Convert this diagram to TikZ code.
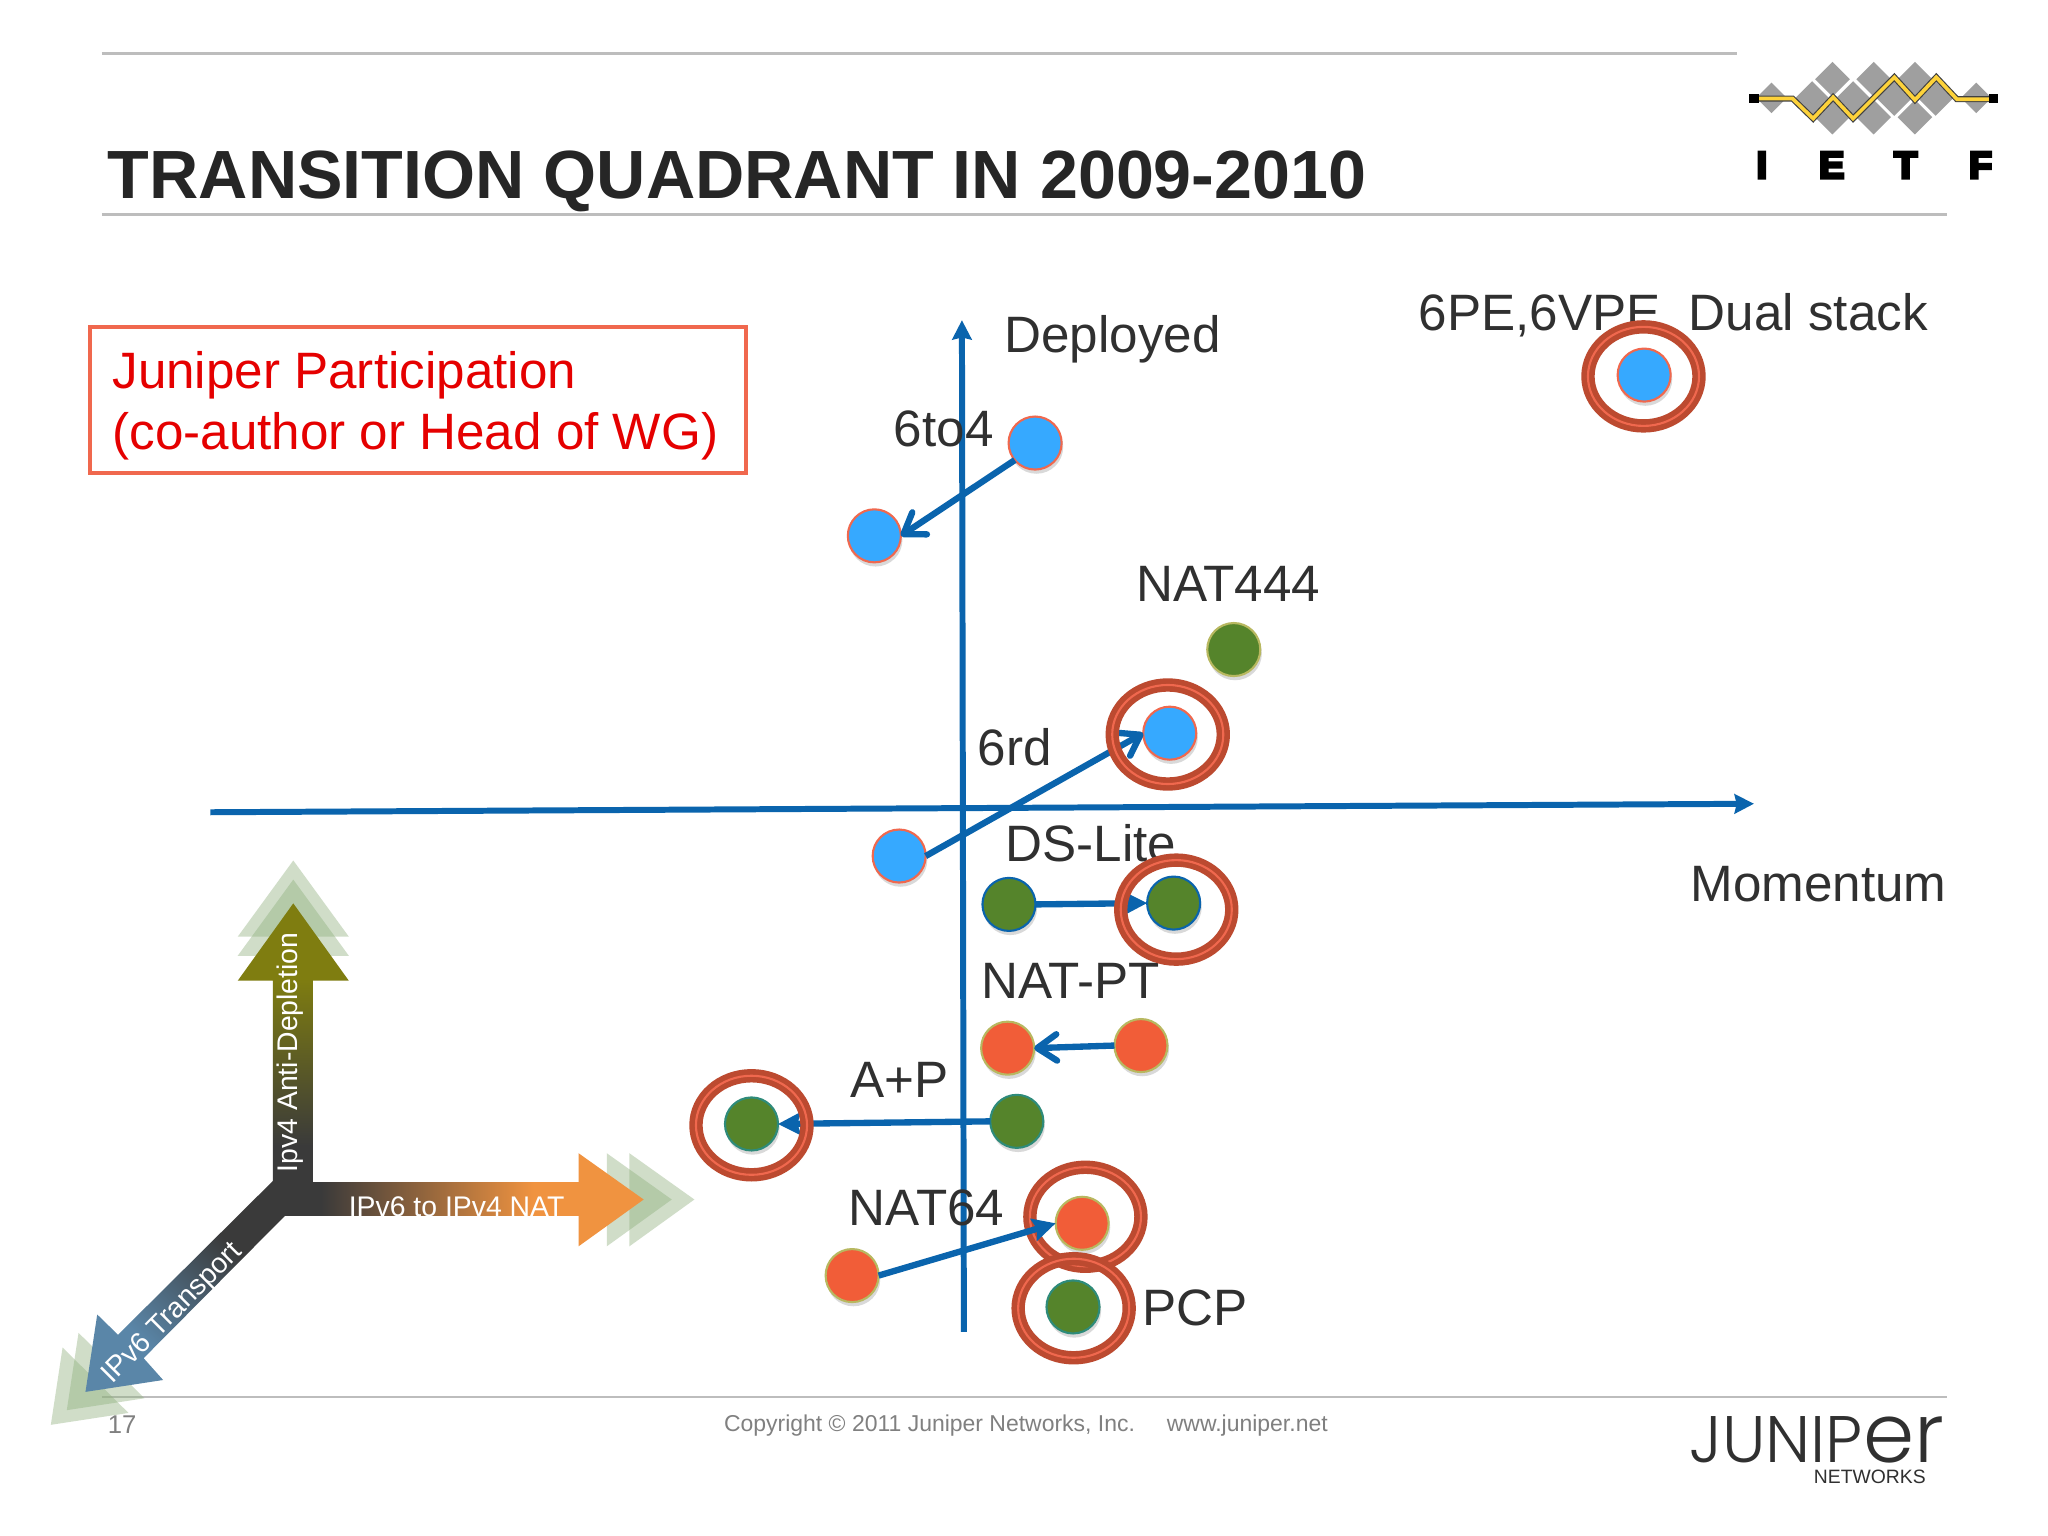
\documentclass[tikz,border=0pt]{standalone}
\usepackage{fontspec}
\setmainfont{Liberation Sans}
\newfontfamily\ietffont[FakeBold=8]{Liberation Sans Bold}
\newfontfamily\jnprfont[UprightFont=* Light]{Poppins}
\usetikzlibrary{arrows.meta,calc,shapes.geometric}
\definecolor{axisblue}{HTML}{0A64AD}
\definecolor{ringred}{HTML}{BC4A30}
\definecolor{ringlight}{HTML}{F0684E}
\definecolor{dotblue}{HTML}{36A9FF}
\definecolor{dotgreen}{HTML}{55842B}
\definecolor{dotorange}{HTML}{F15D38}
\definecolor{dotedge}{HTML}{B8B860}
\definecolor{dotteal}{HTML}{2E8B7A}
\definecolor{txtdark}{HTML}{303030}
\definecolor{rulegray}{HTML}{BDBDBD}
\definecolor{ghost}{HTML}{8FB07E}
\definecolor{hubdark}{HTML}{3A3A3A}
\definecolor{olivetop}{HTML}{7F7D10}
\definecolor{natorange}{HTML}{F09340}
\definecolor{transblue}{HTML}{5A86A8}
\definecolor{ietfyellow}{HTML}{FDD23A}
\pgfdeclareverticalshading{upshade}{100bp}{color(0bp)=(hubdark);color(33bp)=(hubdark);color(62bp)=(olivetop);color(100bp)=(olivetop)}
\pgfdeclarehorizontalshading{natshade}{100bp}{color(0bp)=(hubdark);color(31bp)=(hubdark);color(60bp)=(natorange);color(100bp)=(natorange)}
\pgfdeclarehorizontalshading{transshade}{100bp}{color(0bp)=(transblue);color(32bp)=(transblue);color(62bp)=(hubdark);color(100bp)=(hubdark)}
\tikzset{
  x=0.013069cm, y=-0.013069cm,
  rulel/.style={draw=rulegray,line width=0.75pt},
  lab/.style={anchor=base west,inner sep=0,outer sep=0,text=txtdark,font=\fontsize{14.55}{14.55}\selectfont},
  dotb/.style={circle,minimum size=0.53cm,inner sep=0,outer sep=0,fill=dotblue,draw=ringlight,line width=0.6pt},
  dotg/.style={circle,minimum size=0.53cm,inner sep=0,outer sep=0,fill=dotgreen,draw=axisblue,line width=0.6pt},
  dott/.style={circle,minimum size=0.53cm,inner sep=0,outer sep=0,fill=dotgreen,draw=dotteal,line width=0.6pt},
  dotgy/.style={circle,minimum size=0.53cm,inner sep=0,outer sep=0,fill=dotgreen,draw=dotedge,line width=0.6pt},
  doto/.style={circle,minimum size=0.53cm,inner sep=0,outer sep=0,fill=dotorange,draw=dotedge,line width=0.6pt},
  ringo/.style={ellipse,minimum width=1.11cm,minimum height=0.99cm,inner sep=0,draw=ringred,line width=3.8pt,
     postaction={draw=ringlight,line width=0.6pt}},
  conn/.style={draw=axisblue,line width=1.8pt,-{Straight Barb[length=5.5pt,width=7.5pt,line width=1.8pt,round]}},
  connf/.style={draw=axisblue,line width=1.8pt,-{Stealth[length=6.5pt,width=6.5pt,inset=1pt]}},
  axisl/.style={draw=axisblue,line width=1.7pt,-{Stealth[length=5.5pt,width=5.5pt,inset=0.6pt]}},
  ghostf/.style={fill=ghost,fill opacity=0.42},
  wtxt/.style={inner sep=0,outer sep=0,text=white,font=\fontsize{8.07}{8.07}\selectfont},
  shd/.style={fill=black,fill opacity=0.15},
}
\newcommand{\dotshadow}[2]{\fill[shd] (#1+1,#2+3) circle (20.5);}
\begin{document}
\begin{tikzpicture}
\useasboundingbox (0,0) rectangle (1567,1175.25);
\fill[white] (0,0) rectangle (1567,1175.25);
% rules
\draw[rulel] (78,41) -- (1329,41);
\draw[rulel] (78,164) -- (1490,164);
\draw[rulel] (78,1069) -- (1490,1069);
% title
\node[anchor=base west,inner sep=0,text=black!85,font=\fontsize{19.4}{19.4}\selectfont\bfseries] (title) at (82,152) {TRANSITION QUADRANT IN 2009-2010};
% IETF logo
\begin{scope}[shift={(1316,30.6)},x=0.00333cm,y=-0.00333cm]
  \foreach \cx/\cy/\h in {155/174/46,770/174/46,338/118/52,462/118/52,586/118/52,277/176/52,400/176/52,524/176/52,648/176/52,338/232/52,462/232/52,586/232/52}{
    \fill[gray!75] (\cx-\h,\cy) -- (\cx,\cy-\h) -- (\cx+\h,\cy) -- (\cx,\cy+\h) -- cycle;
  }
  \draw[black!75,line width=1.7pt,line join=miter] (115,176) -- (218,176) -- (280,236) -- (340,172) -- (400,236) -- (524,112) -- (586,180) -- (650,112) -- (712,178) -- (810,178);
  \draw[ietfyellow,line width=1.05pt,line join=miter] (115,176) -- (218,176) -- (280,236) -- (340,172) -- (400,236) -- (524,112) -- (586,180) -- (650,112) -- (712,178) -- (810,178);
  \fill[black] (88,161) rectangle (116,189);
  \fill[black] (808,161) rectangle (836,189);
  \node[inner sep=0,anchor=base,font=\ietffont\fontsize{10.7}{10.7}\selectfont] (li) at (126,415) {I};
  \node[inner sep=0,anchor=base,font=\ietffont\fontsize{10.7}{10.7}\selectfont] (le) at (336,415) {E};
  \node[inner sep=0,anchor=base,font=\ietffont\fontsize{10.7}{10.7}\selectfont] (lt) at (558,415) {T};
  \node[inner sep=0,anchor=base,font=\ietffont\fontsize{10.7}{10.7}\selectfont] (lf) at (783,415) {F};
\end{scope}
% Juniper box
\node[draw=ringlight,line width=1.15pt,inner sep=0,outer sep=0,minimum width=6.55cm,minimum height=1.46cm,anchor=north west] (box) at (69,250) {};
\node[anchor=base west,inner sep=0,text=red!90!black,font=\fontsize{14.55}{14.55}\selectfont] (b1) at (85.5,297) {Juniper Participation};
\node[anchor=base west,inner sep=0,text=red!90!black,font=\fontsize{14.55}{14.55}\selectfont] (b2) at (85.5,344) {(co-author or Head of WG)};
% axes
\coordinate (hs) at (161,621.5); \coordinate (he) at (1342,615);
\coordinate (vs) at (737.5,1019); \coordinate (ve) at (736,245);
\draw[axisl] (hs) -- (he);
\draw[axisl] (vs) -- (ve);
% labels
\node[lab] (deployed) at (768.5,270) {Deployed};
\node[lab] (sixpe) at (1085.5,253) {6PE,6VPE\ \ Dual stack};
\node[lab] (sixto) at (684,342) {6to4};
\node[lab] (nat444) at (869.5,460) {NAT444};
\node[lab] (sixrd) at (748,586) {6rd};
\node[lab] (dslite) at (769.5,659) {DS-Lite};
\node[lab] (mom) at (1293.5,690) {Momentum};
\node[lab] (natpt) at (751,764) {NAT-PT};
\node[lab] (ap) at (651,840) {A+P};
\node[lab] (nat64) at (649.5,938) {NAT64};
\node[lab] (pcp) at (874,1014) {PCP};
% big arrows - ghosts
\foreach \d in {0,-14.6}{
 \fill[ghostf] (181.9,731.3+\d) -- (224.4,673+\d) -- (266.9,731.3+\d) -- cycle;}
\foreach \d in {0,17.3}{
 \fill[ghostf] (464.3+\d,882.4) -- (514+\d,917.8) -- (464.3+\d,953.6) -- cycle;}
\foreach \d/\e in {-14.3/14,-26.5/25.2}{
 \fill[ghostf] (65.4+\d,1065+\e) -- (74.4+\d,1005.8+\e) -- (124.8+\d,1055.9+\e) -- cycle;}
% arrows with gradients
\path[shading=transshade,shading angle=45]
  (208.8,903.6) -- (90.3,1021.3) -- (74.4,1005.8) -- (65.4,1065) -- (124.8,1055.9) -- (109.9,1039.2) -- (218,930.3) -- (239.3,917) -- cycle;
\path[shading=upshade]
  (208.8,912) -- (208.8,750.4) -- (181.9,750.4) -- (224.4,691.2) -- (266.9,750.4) -- (239.3,750.4) -- (239.3,912) -- cycle;
\path[shading=natshade]
  (212,904.5) -- (442.7,904.5) -- (442.7,882.4) -- (492.5,917.8) -- (442.7,953.6) -- (442.7,930.3) -- (212,930.3) -- cycle;
\node[wtxt,anchor=base west] (t1) at (266.9,931) {IPv6 to IPv4 NAT};
\node[wtxt,anchor=base west,rotate=90] (t2) at (228,897) {Ipv4 Anti-Depletion};
\node[wtxt,anchor=base west,rotate=45] (t3) at (86,1059) {IPv6 Transport};
% page text
\node[anchor=base west,inner sep=0,text=gray,font=\fontsize{7.3}{7.3}\selectfont] (pg) at (82,1097) {17};
\node[anchor=base west,inner sep=0,text=gray,font=\fontsize{6.53}{6.53}\selectfont] (copy) at (553.5,1095.5) {Copyright \textcopyright{} 2011 Juniper Networks, Inc.\ \ \ \ \ www.juniper.net};
% Juniper logo
\node[anchor=base east,inner sep=0,text=txtdark,font=\jnprfont\fontsize{18.7}{18.7}\selectfont] (jn) at (1488,1119) {JUNIP{\fontsize{23.4}{23.4}\selectfont er}};
\node[anchor=base east,inner sep=0,text=txtdark,font=\fontsize{5.5}{5.5}\selectfont] (nw) at (1474,1135) {NETWORKS};
% dot shadows and dots
\foreach \x/\y in {1258/287,792/339,669/410,895/561,688/655,944/497,772/692,898/691,778/858,575/860,821/1000,771/802,873/800,828/936,652/976}{\dotshadow{\x}{\y}}
\node[dotb] (a1) at (1258,287) {};
\node[dotb] (a2) at (792,339) {};
\node[dotb] (a3) at (669,410) {};
\node[dotb] (a4) at (895,561) {};
\node[dotb] (a5) at (688,655) {};
\node[dotgy] (g1) at (944,497) {};
\node[dotg] (g2) at (772,692) {};
\node[dotg] (g3) at (898,691) {};
\node[dott] (g4) at (778,858) {};
\node[dott] (g5) at (575,860) {};
\node[dott] (g6) at (821,1000) {};
\node[doto] (o1) at (771,802) {};
\node[doto] (o2) at (873,800) {};
\node[doto] (o3) at (828,936) {};
\node[doto] (o4) at (652,976) {};
% connectors
\draw[conn] (a2.220) -- (a3.east);
\draw[conn] (a5.east) -- (a4.west);
\draw[connf] (g2.east) -- (g3.west);
\draw[conn] (o2.west) -- (o1.east);
\draw[connf] (g4.west) -- (g5.east);
% rings
\node[ringo] (r1) at (1257.5,288) {};
\node[ringo] (r2) at (893.5,562) {};
\node[ringo] (r3) at (900,696) {};
\node[ringo] (r4) at (575,861) {};
\node[ringo] (r5) at (830.5,931) {};
\node[ringo] (r6) at (821.5,1001) {};
\draw[connf] (o4.east) -- (o3.west);
\end{tikzpicture}
\end{document}
